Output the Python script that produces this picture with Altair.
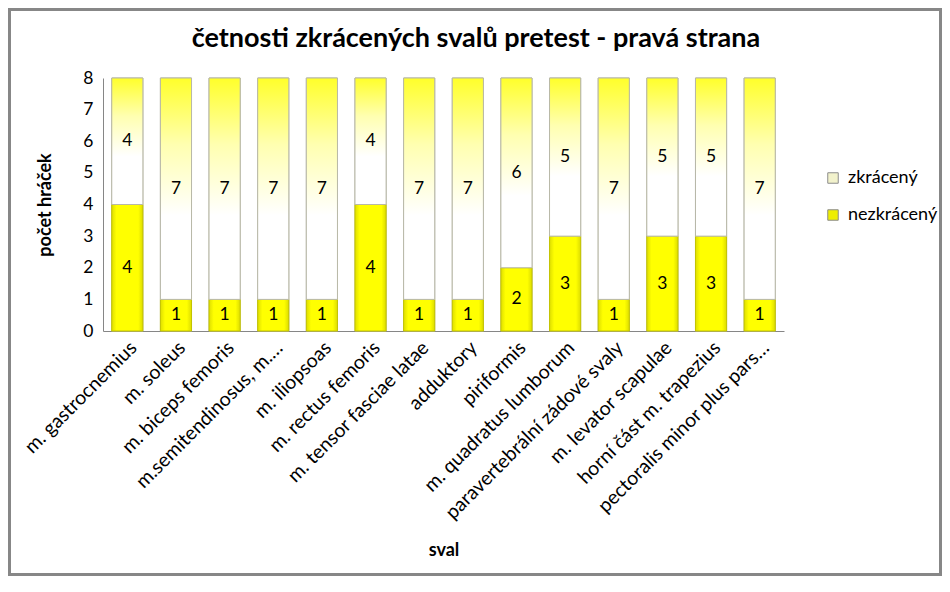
import altair as alt
import pandas as pd

titulek = "četnosti zkrácených svalů pretest - pravá strana"
svaly = [
    "m. gastrocnemius", "m. soleus", "m. biceps femoris", "m.semitendinosus, m.…",
    "m. iliopsoas", "m. rectus femoris", "m. tensor fasciae latae", "adduktory",
    "piriformis", "m. quadratus lumborum", "paravertebrální zádové svaly",
    "m. levator scapulae", "horní část m. trapezius", "pectoralis minor plus pars…",
]
nezkraceny = [4, 1, 1, 1, 1, 4, 1, 1, 2, 3, 1, 3, 3, 1]
zkraceny = [4, 7, 7, 7, 7, 4, 7, 7, 6, 5, 7, 5, 5, 7]
typy = ["zkrácený", "nezkrácený"]
barvy = ["#f2f2cc", "#eeee00"]

rows = []
for s, n, z in zip(svaly, nezkraceny, zkraceny):
    rows.append(dict(sval=s, typ="nezkrácený", pocet=n, start=0, end=n))
    rows.append(dict(sval=s, typ="zkrácený", pocet=z, start=n, end=n + z))
df = pd.DataFrame(rows)
df["mid"] = (df["start"] + df["end"]) / 2

FONT = "Lato"
W, H = 681, 253
PL, PT, PR, PB = 95, 70, 158, 245

xaxis = alt.Axis(
    title="sval", labelAngle=-45, labelFontSize=19.5, labelFont=FONT, labelColor="black",
    titleFont=FONT, titleFontSize=18, titleFontWeight="bold", titleColor="black",
    ticks=False, domainColor="#868686", labelPadding=7, labelLimit=400,
    titleY=219, titleBaseline="middle",
)
xscale = alt.Scale(paddingInner=0.36, paddingOuter=0.18)
yaxis = alt.Axis(
    title="počet hráček", values=list(range(9)), ticks=False, grid=False,
    labelFontSize=17.5, labelFont=FONT, labelColor="black", labelPadding=10,
    titleFont=FONT, titleFontSize=18, titleFontWeight="bold", titleColor="black",
    domainColor="#868686", titleX=-58, titleBaseline="middle",
)
yscale = alt.Scale(domain=[0, 8], nice=False)

def xenc():
    return alt.X("sval:N", sort=svaly, scale=xscale, axis=xaxis)

base = alt.Chart(df)

bars = base.mark_bar(stroke="#b4b4a0", strokeWidth=1).encode(
    x=xenc(),
    y=alt.Y("start:Q", scale=yscale, axis=yaxis),
    y2="end:Q",
    color=alt.Color(
        "typ:N",
        scale=alt.Scale(domain=typy, range=barvy),
        legend=alt.Legend(
            title=None, orient="none", legendX=721, legendY=91,
            symbolType="square", symbolSize=110, symbolStrokeColor="#8c8c8c",
            symbolStrokeWidth=1, symbolOpacity=1, labelFontSize=18, labelFont=FONT,
            labelColor="black", rowPadding=19, padding=0, labelOffset=6,
        ),
    ),
)

grad_n = alt.LinearGradient(
    gradient="linear", x1=0, y1=0, x2=1, y2=0,
    stops=[
        alt.GradientStop(color="#dede00", offset=0),
        alt.GradientStop(color="#ffff00", offset=0.15),
        alt.GradientStop(color="#ffff00", offset=0.85),
        alt.GradientStop(color="#dcdc00", offset=1),
    ],
)
grad_z = alt.LinearGradient(
    gradient="linear", x1=0, y1=0, x2=0, y2=1,
    stops=[
        alt.GradientStop(color="#ffff2a", offset=0),
        alt.GradientStop(color="#ffffb0", offset=0.3),
        alt.GradientStop(color="#ffffff", offset=0.62),
        alt.GradientStop(color="#ffffff", offset=1),
    ],
)

bars_n = base.transform_filter(alt.datum.typ == "nezkrácený").mark_bar(
    fill=grad_n, stroke="#c4c400", strokeWidth=1
).encode(x=xenc(), y=alt.Y("start:Q", scale=yscale, axis=yaxis), y2="end:Q")

bars_z = base.transform_filter(alt.datum.typ == "zkrácený").mark_bar(
    fill=grad_z, stroke="#b8b8a8", strokeWidth=1
).encode(x=xenc(), y=alt.Y("start:Q", scale=yscale, axis=yaxis), y2="end:Q")

labels = base.mark_text(fontSize=17.5, font=FONT, color="black", baseline="middle").encode(
    x=xenc(), y=alt.Y("mid:Q", scale=yscale, axis=yaxis), text="pocet:Q"
)

title_mark = alt.Chart(pd.DataFrame({"t": [titulek]})).mark_text(
    font=FONT, fontSize=27, fontWeight="bold", color="black",
    align="center", baseline="alphabetic",
).encode(text="t:N", x=alt.value(373), y=alt.value(-31))

frame = alt.Chart(pd.DataFrame({"t": [titulek]})).mark_rect(
    fillOpacity=0, stroke="#878787", strokeWidth=3
).encode(
    x=alt.value(-PL + 1.5), x2=alt.value(W + PR - 1.5),
    y=alt.value(-PT + 1.5), y2=alt.value(H + PB - 1.5),
)

chart = alt.layer(bars, bars_n, bars_z, labels, title_mark, frame).properties(
    width=W, height=H,
    autosize=alt.AutoSizeParams(type="none"),
    padding={"left": PL, "top": PT, "right": PR, "bottom": PB},
).configure_view(stroke=None)

chart.save("out.html", embed_options={"renderer": "svg", "actions": False})
